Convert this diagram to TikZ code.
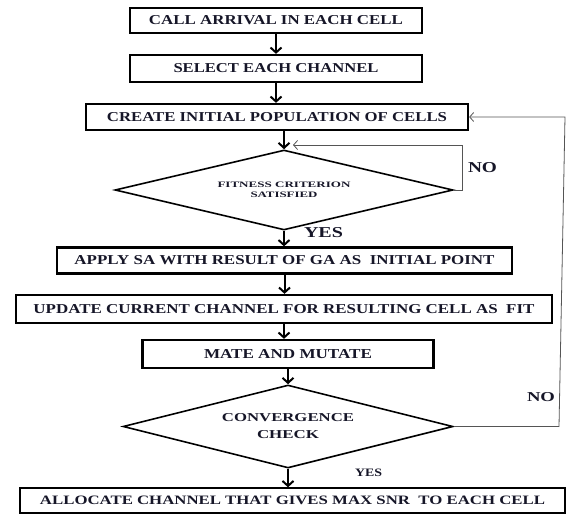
\documentclass[tikz,border=0pt]{standalone}
\usepackage{fontspec}
\setmainfont{Liberation Serif}
\usepackage{graphicx}
\usetikzlibrary{arrows.meta,shapes.geometric,calc}
\definecolor{ink}{RGB}{22,22,40}
\definecolor{fb}{RGB}{85,85,85}
\newcommand\fitt[3]{\resizebox{#1pt}{#2pt}{\bfseries #3}}
\tikzset{
 box/.style={draw=black, line width=2.3pt, rectangle, inner sep=0pt, text=ink},
 dia/.style={draw=black, line width=1.6pt, diamond, inner sep=0pt, text=ink, align=center},
 flow/.style={line width=2pt, -{Straight Barb[length=5pt,width=11pt]}},
 back/.style={draw=fb, line width=0.8pt, -{Straight Barb[length=4pt,width=9pt]}},
 lbl/.style={inner sep=0pt, text=ink},
}
\begin{document}
\begin{tikzpicture}[x=1pt,y=-1pt]
\useasboundingbox (0,0) rectangle (567,514);
\node[box, minimum width=292pt, minimum height=25pt] (b1) at (276,20.5) {\fitt{254}{9}{CALL ARRIVAL IN EACH CELL}};
\node[box, minimum width=292pt, minimum height=27pt] (b2) at (276,68.5) {\fitt{205}{9}{SELECT EACH CHANNEL}};
\node[box, minimum width=382pt, minimum height=26pt] (b3) at (277,117) {\fitt{340}{9}{CREATE INITIAL POPULATION OF CELLS}};
\node[dia, shape aspect=4.2, minimum width=338pt, minimum height=80pt, font=\fontsize{8}{10}\selectfont] (d1) at (284,190) {\fitt{133}{5.5}{FITNESS CRITERION}\\\fitt{67}{5.5}{SATISFIED}};
\node[box, minimum width=455pt, minimum height=26pt] (b4) at (284.5,260.5) {\fitt{420}{9}{APPLY SA WITH RESULT OF GA AS\ \ INITIAL POINT}};
\node[box, minimum width=536pt, minimum height=28pt] (b5) at (284,309) {\fitt{501}{9}{UPDATE CURRENT CHANNEL FOR RESULTING CELL AS\ \ FIT}};
\node[box, minimum width=291pt, minimum height=28pt] (b6) at (288,354) {\fitt{168}{9}{MATE AND MUTATE}};
\node[dia, shape aspect=4, minimum width=330pt, minimum height=83pt, font=\fontsize{8}{17}\selectfont] (d2) at (288,426.5) {\fitt{132}{8}{CONVERGENCE}\\\fitt{62}{8}{CHECK}};
\node[box, line width=1.4pt, minimum width=545pt, minimum height=25pt] (b7) at (292.5,500.5) {\fitt{505}{8.5}{ALLOCATE CHANNEL THAT GIVES MAX SNR\ \ TO EACH CELL}};
% main flow
\draw[flow] (b1.south) -- (b1.south |- b2.north);
\draw[flow] (b2.south) -- (b2.south |- b3.north);
\draw[flow] (d1.north |- b3.south) -- (d1.north);
\draw[flow] (d1.south) -- (d1.south |- b4.north);
\draw[flow] (b4.south) -- (b4.south |- b5.north);
\draw[flow] (b5.south) -- (b5.south |- b6.north);
\draw[flow] (d2.north |- b6.south) -- (d2.north);
\draw[flow] (d2.south) -- (d2.south |- b7.north);
% feedback loops
\coordinate (f1a) at (462,190);
\coordinate (f1b) at (462,145);
\coordinate (f1c) at (293,145);
\draw[back] (d1.east) -- (f1a) -- (f1b) -- (f1c);
\coordinate (f2a) at (559,426.5);
\coordinate (f2b) at (565,117);
\draw[back] (d2.east) -- (f2a) -- (f2b) -- (b3.east);
% labels
\node[lbl] (no1) at (482.5,168) {\fitt{29}{10}{NO}};
\node[lbl] (yes1) at (323.5,233) {\fitt{39}{10}{YES}};
\node[lbl] (no2) at (541,397) {\fitt{28}{9}{NO}};
\node[lbl] (yes2) at (368.5,473) {\fitt{27}{7.5}{YES}};
\end{tikzpicture}
\end{document}
